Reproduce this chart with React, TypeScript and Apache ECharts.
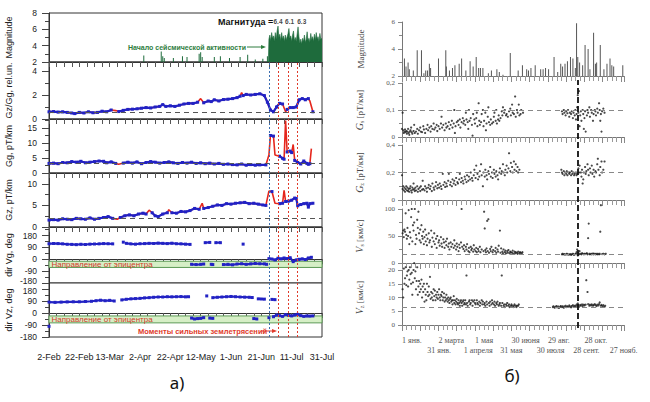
import React, { useEffect, useRef } from 'react';
import * as echarts from 'echarts';

// ---------- tick labels ----------
const leftXLabels = ['2-Feb', '22-Feb', '13-Mar', '2-Apr', '22-Apr', '12-May', '1-Jun', '21-Jun', '11-Jul', '31-Jul'];
const rightXLabels = ['1 янв.', '31 янв.', '2 марта', '1 апреля', '1 мая', '31 мая', '30 июня', '30 июля', '29 авг.', '28 сент.', '28 окт.', '27 нояб.'];

// ---------- panel a) ----------
const onsetDay = 145;
const quakeDays = [151, 158, 164];
const quakeMags = [6.4, 6.1, 6.3];

const magSpikesA: [number, number][] = [
  [62.5, 2.8], [74, 3.3], [75, 2.7], [76, 2.5], [82, 2.5], [88, 2.7], [91, 2.6], [99, 3.0], [100, 3.2], [101, 2.6],
  [109, 2.6], [113, 2.7], [119, 2.5], [126, 2.6], [131, 2.9], [136, 2.3], [141, 2.4], [144, 2.7],
];
const magSwarmA: [number, number][] = [
  [144.6, 2], [145, 4.8], [145.6, 5.3], [146.2, 4.6], [146.8, 5.6], [147.4, 4.9], [148, 5.2], [148.6, 4.5], [149.2, 5.6], [149.8, 4.8],
  [150.4, 5.8], [151, 6.4], [151.6, 5.0], [152.2, 5.4], [152.8, 4.6], [153.4, 5.6], [154, 4.8], [154.6, 5.2], [155.2, 4.5], [155.8, 5.3],
  [156.4, 4.7], [157, 5.1], [157.6, 5.5], [158.2, 6.1], [158.8, 4.9], [159.4, 5.2], [160, 4.5], [160.6, 5.3], [161.2, 5.8], [161.8, 4.6],
  [162.4, 5.0], [163, 4.5], [163.6, 5.4], [164.2, 6.3], [164.8, 5.1], [165.4, 4.3], [166, 4.8], [166.6, 4.2], [167.2, 4.9], [167.8, 4.5],
  [168.4, 5.3], [169, 4.4], [169.6, 4.8], [170.2, 5.7], [170.8, 4.6], [171.4, 4.9], [172, 4.4], [172.6, 5.5], [173.2, 4.7], [173.8, 5.1],
  [174.4, 4.5], [175, 5.4], [175.6, 4.7], [176.2, 5.6], [176.8, 4.8], [177.4, 5.1], [178, 4.5], [178.6, 5.5], [179.2, 4.8], [180, 4.9],
];

const gzGgA: [number, number][] = [
  [0, 0.6], [3, 0.62], [6, 0.58], [9, 0.6], [12, 0.55], [15, 0.5], [17, 0.45], [20, 0.55], [23, 0.5], [26, 0.6], [29, 0.52], [32, 0.55],
  [35, 0.65], [38, 0.6], [41, 0.75], [44, 0.7], [46, 0.62], [49, 0.72], [52, 0.8], [55, 0.82], [58, 0.85], [61, 0.9], [64, 0.95], [67, 0.92],
  [70, 1.0], [73, 1.05], [75, 1.2], [77, 1.05], [80, 1.1], [83, 1.05], [86, 1.15], [89, 1.25], [92, 1.3], [95, 1.3], [98, 1.4], [100, 1.7],
  [102, 1.35], [105, 1.5], [107, 1.45], [109, 1.6], [112, 1.5], [115, 1.62], [118, 1.65], [121, 1.7], [124, 1.78], [126, 1.9], [127, 2.2],
  [128, 1.95], [130, 2.05], [133, 2.0], [136, 2.05], [139, 2.1], [142, 1.95], [144, 1.4], [146, 0.75], [148, 0.6], [150, 1.0], [152, 1.3],
  [154, 1.25], [156, 0.6], [157, 0.8], [159, 0.95], [161, 0.95], [163, 1.0], [165, 1.6], [167, 1.7], [169, 1.6], [171, 1.7], [172, 1.5], [174, 0.6],
];
const gzGgRed = [44, 100, 127, 156, 172];

const ggA: [number, number][] = [
  [0, 3.2], [3, 3.3], [6, 3.1], [9, 3.5], [12, 3.4], [15, 3.8], [18, 3.6], [21, 3.9], [24, 3.4], [27, 3.6], [30, 3.8], [33, 4.0], [36, 3.9],
  [38, 3.4], [41, 3.7], [44, 3.2], [46, 2.9], [49, 3.3], [52, 3.6], [55, 3.3], [58, 3.7], [61, 3.1], [64, 3.5], [67, 3.8], [70, 3.6], [73, 3.3],
  [76, 3.5], [79, 3.7], [82, 3.4], [85, 3.2], [88, 3.5], [91, 3.3], [94, 3.6], [97, 3.2], [100, 3.4], [103, 3.1], [106, 3.3], [109, 3.0],
  [112, 3.2], [115, 2.9], [118, 3.0], [121, 2.8], [124, 2.7], [127, 3.0], [130, 2.6], [133, 2.8], [136, 2.6], [139, 2.7], [143, 2.7],
  [145, 6.0], [146, 12.5], [148, 12.3], [149, 6.0], [152, 5.6], [154, 4.9], [155, 4.6], [156, 17.5], [157, 7.0], [159, 7.3], [160, 6.8],
  [161, 9.5], [162, 4.2], [164, 3.5], [166, 3.0], [168, 4.0], [170, 3.2], [171, 2.9], [172, 3.1], [173, 8.1],
];
const ggRed = [46, 145, 149, 156, 161, 173];

const gzA: [number, number][] = [
  [0, 1.6], [3, 1.7], [6, 1.6], [9, 1.9], [12, 1.8], [15, 1.7], [18, 2.0], [21, 1.9], [24, 1.8], [27, 2.1], [30, 1.8], [33, 2.0], [36, 2.2],
  [39, 2.4], [42, 2.0], [45, 1.8], [47, 2.2], [50, 2.6], [53, 2.8], [56, 2.6], [59, 3.0], [62, 3.2], [64, 3.0], [66, 3.9], [68, 3.3], [70, 2.6],
  [72, 2.4], [75, 3.0], [78, 3.3], [79, 4.0], [81, 3.3], [84, 3.2], [87, 3.6], [90, 3.5], [93, 3.8], [96, 4.3], [99, 4.1], [101, 5.5], [102, 4.3],
  [105, 4.5], [108, 4.8], [111, 5.1], [114, 5.0], [117, 5.4], [120, 5.3], [123, 5.5], [126, 5.6], [129, 5.7], [132, 5.4], [135, 5.5], [138, 5.3],
  [141, 5.1], [143, 5.0], [145, 8.3], [147, 8.2], [149, 5.5], [152, 5.4], [154, 5.5], [155, 8.5], [156, 5.9], [158, 6.0], [160, 6.2], [162, 6.7],
  [163, 6.6], [164, 4.9], [166, 5.2], [168, 5.4], [170, 5.5], [171, 4.6], [172, 5.4], [174, 5.5],
];
const gzRed = [45, 66, 79, 101, 145, 149, 155];

const dirVgUpper: [number, number | null][] = [
  [0, 118], [3, 120], [6, 119], [9, 117], [12, 114], [15, 113], [18, 111], [21, 114], [24, 112], [27, 115], [30, 116], [33, 117], [36, 119],
  [39, 118], [42, 117], [45, null], [49, 130], [50, null], [51, 121], [54, 117], [57, 115], [60, 118], [63, 119], [66, 121], [69, 120],
  [72, 123], [75, 121], [78, 119], [81, 122], [84, 118], [87, 117], [90, 115], [93, 113], [98, null], [103, 126], [106, 128], [108, null],
  [110, 126], [113, 126], [120, null], [128, 115],
];
const dirVgLower: [number, number | null][] = [
  [94, -38], [97, -40], [100, -38], [102, -36], [104, null], [107, -38], [108, -40], [111, null], [115, -40], [118, -38], [121, -42],
  [124, -36], [127, -34], [130, -38], [133, -35], [136, -32], [139, -34], [142, -35], [143.5, -38],
];
const dirVgAfter: [number, number][] = [
  [145, 5], [147, 2], [149, -5], [151, 8], [153, 3], [155, 10], [157, 5], [159, 12], [161, -18], [163, -5], [165, 0], [167, 3], [169, -2],
  [171, 10], [173, 15],
];

const dirVzUpper: [number, number | null][] = [
  [0, 82], [4, 80], [8, 82], [12, 83], [16, 84], [20, 84], [24, 86], [28, 88], [31, 92], [34, 96], [37, 92], [40, 95], [43, 90], [45, null],
  [48, 98], [51, 103], [54, 106], [57, 108], [60, 110], [63, 113], [66, 115], [69, 118], [72, 120], [75, 120], [78, 122], [81, 121], [84, 122],
  [87, 123], [90, 121], [92, 122], [95, null], [104, 128], [105, null], [108, 115], [111, 118], [114, 120], [117, 122], [120, 124], [123, 122],
  [126, 120], [129, 119], [132, 118], [134, 116], [135, null], [138, 106], [140, 105], [142, 104], [144, null], [147, 102], [149, 100],
];
const dirVzLower: [number, number | null][] = [
  [0, -100], [1, null], [94, -38], [96, -45], [98, -42], [100, -40], [102, -35], [103, null], [106, -38], [108, -40], [110, null],
  [135, -42], [137, -45], [138, null], [145, -35], [146, null], [148, -28], [150, -15], [152, -20], [154, -25], [156, -12], [158, -18],
  [160, -22], [162, -15], [164, -10], [166, -20], [168, -25], [170, -22], [172, -23], [174, -22],
];

// ---------- panel б) ----------
const markedDayB = 289;
const magB: [number, number][] = [
  [4, 3.3], [6.6, 2.7], [10, 3.0], [12, 2.5], [18.6, 2.4], [25, 3.9], [32, 3.9], [36, 2.2], [39, 2.4], [42, 2.4], [45, 2.9], [47, 2.6],
  [60, 3.3], [72, 3.9], [73, 2.7], [78, 2.4], [83, 2.6], [87, 2.8], [94, 2.9], [98, 3.3], [105, 2.4], [112, 3.1], [117, 2.7], [122, 3.4],
  [126, 2.6], [129, 2.6], [133, 2.6], [142, 2.2], [147, 2.4], [156, 2.5], [160, 2.3], [166, 2.1], [178, 3.7], [191, 2.4], [198, 2.8],
  [205, 2.5], [208, 2.4], [212, 2.6], [219, 2.8], [228, 2.5], [232, 2.5], [236, 2.6], [241, 2.5], [250, 3.4], [256, 2.3], [261, 2.9],
  [264, 2.7], [268, 2.9], [272, 3.1], [277, 3.4], [281, 3.3], [285, 2.6], [287, 5.9], [289, 3.4], [292, 3.0], [297, 2.8], [301, 4.3],
  [306, 4.0], [309, 2.5], [315, 5.2], [318, 2.9], [320, 3.0], [326, 4.3], [332, 2.5], [337, 2.9], [342, 3.3], [345, 2.8], [348, 2.7], [363, 2.8],
];
const gsB: [number, number][] = [
  [0, 0.03], [1, 0.09], [2, 0.025], [3, 0.015], [4, 0.02], [5, 0.028], [6, 0.018], [7, 0.022], [8, 0.012], [9, 0.02], [10, 0.03], [11, 0.015],
  [12, 0.008], [13, 0.02], [14, 0.025], [15, 0.035], [16, 0.018], [17, 0.012], [19, 0.022], [20, 0.045], [21, 0.015], [23, 0.02], [25, 0.03],
  [26, 0.012], [28, 0.025], [30, 0.035], [31, 0.02], [33, 0.018], [35, 0.04], [36, 0.028], [38, 0.015], [40, 0.03], [42, 0.045], [43, 0.025],
  [45, 0.035], [47, 0.02], [48, 0.04], [50, 0.03], [52, 0.05], [53, 0.028], [55, 0.035], [57, 0.045], [58, 0.022], [60, 0.04], [62, 0.03],
  [64, 0.05], [65, 0.075], [66, 0.035], [68, 0.045], [70, 0.025], [72, 0.05], [73, 0.035], [75, 0.04], [77, 0.055], [78, 0.03], [80, 0.045],
  [82, 0.06], [83, 0.035], [85, 0.05], [86, 0.1], [87, 0.015], [88, 0.04], [90, 0.055], [92, 0.06], [93, 0.045], [95, 0.065], [96, 0.035],
  [98, 0.055], [100, 0.07], [101, 0.05], [102, 0.06], [104, 0.045], [105, 0.09], [106, 0.065], [108, 0.055], [109, 0.03], [110, 0.1],
  [111, 0.06], [113, 0.07], [115, 0.045], [116, 0.005], [117, 0.085], [119, 0.065], [120, 0.05], [122, 0.07], [123, 0.09], [124, 0.04],
  [126, 0.125], [127, 0.06], [128, 0.045], [130, 0.055], [131, 0.085], [133, 0.1], [134, 0.04], [135, 0.06], [137, 0.09], [138, 0.025],
  [139, 0.05], [141, 0.075], [142, 0.11], [143, 0.055], [145, 0.045], [146, 0.065], [148, 0.05], [150, 0.055], [151, 0.075], [152, 0.09],
  [154, 0.06], [155, 0.1], [156, 0.05], [158, 0.065], [159, 0.08], [160, 0.06], [162, 0.07], [164, 0.095], [165, 0.08], [166, 0.11],
  [168, 0.09], [169, 0.1], [171, 0.08], [172, 0.085], [174, 0.075], [176, 0.095], [178, 0.105], [179, 0.08], [181, 0.12], [182, 0.09],
  [184, 0.085], [186, 0.15], [187, 0.075], [189, 0.1], [190, 0.09], [192, 0.12], [193, 0.08], [195, 0.085], [196, 0.1], [199, 0.09],
  [263, 0.095], [264, 0.085], [266, 0.1], [267, 0.09], [269, 0.08], [270, 0.095], [272, 0.088], [273, 0.1], [275, 0.075], [276, 0.09],
  [278, 0.085], [279, 0.095], [281, 0.07], [282, 0.09], [284, 0.08], [285, 0.1], [286, 0.065], [287, 0.085], [288, 0.11], [289, 0.155],
  [290, 0.09], [291, 0.17], [292, 0.04], [293, 0.08], [294, 0.095], [295, 0.06], [297, 0.1], [298, 0.085], [299, 0.03], [300, 0.07],
  [301, 0.095], [302, 0.02], [304, 0.08], [305, 0.1], [306, 0.09], [308, 0.11], [309, 0.075], [311, 0.1], [312, 0.09], [314, 0.06],
  [315, 0.085], [317, 0.1], [318, 0.095], [319, 0.08], [321, 0.105], [322, 0.09], [324, 0.125], [325, 0.1], [326, 0.06], [327, 0.085],
  [328, 0.02], [329, 0.095], [331, 0.105], [333, 0.09],
];
const gzB: [number, number][] = [
  [0, 0.18], [1, 0.08], [2, 0.1], [3, 0.07], [4, 0.09], [5, 0.06], [6, 0.08], [7, 0.1], [8, 0.07], [9, 0.09], [10, 0.065], [11, 0.08],
  [12, 0.06], [13, 0.085], [14, 0.1], [15, 0.07], [16, 0.055], [17, 0.09], [18, 0.075], [19, 0.12], [20, 0.08], [21, 0.065], [22, 0.09],
  [23, 0.07], [25, 0.1], [26, 0.06], [27, 0.08], [29, 0.09], [30, 0.065], [31, 0.1], [33, 0.075], [34, 0.14], [35, 0.08], [37, 0.07],
  [38, 0.1], [40, 0.085], [41, 0.06], [43, 0.09], [44, 0.11], [46, 0.08], [47, 0.1], [49, 0.065], [50, 0.12], [52, 0.09], [53, 0.075],
  [55, 0.1], [56, 0.13], [58, 0.085], [59, 0.11], [61, 0.09], [62, 0.12], [64, 0.1], [65, 0.08], [67, 0.19], [68, 0.11], [70, 0.13],
  [71, 0.095], [73, 0.12], [74, 0.1], [76, 0.14], [77, 0.19], [79, 0.11], [80, 0.13], [82, 0.1], [83, 0.15], [85, 0.12], [86, 0.14],
  [88, 0.11], [89, 0.16], [91, 0.13], [92, 0.12], [94, 0.15], [95, 0.19], [97, 0.13], [98, 0.16], [100, 0.14], [101, 0.12], [103, 0.17],
  [104, 0.15], [106, 0.13], [107, 0.18], [109, 0.14], [110, 0.17], [112, 0.15], [113, 0.2], [115, 0.16], [116, 0.14], [118, 0.18],
  [119, 0.22], [121, 0.16], [122, 0.25], [124, 0.19], [125, 0.15], [127, 0.17], [128, 0.21], [130, 0.26], [131, 0.18], [133, 0.1],
  [134, 0.2], [136, 0.17], [137, 0.22], [139, 0.18], [140, 0.15], [142, 0.21], [143, 0.19], [145, 0.24], [146, 0.17], [148, 0.2],
  [149, 0.16], [151, 0.22], [152, 0.19], [154, 0.17], [155, 0.21], [157, 0.18], [158, 0.15], [160, 0.2], [161, 0.23], [163, 0.19],
  [164, 0.21], [166, 0.26], [167, 0.2], [169, 0.18], [170, 0.22], [172, 0.25], [173, 0.2], [175, 0.23], [176, 0.34], [178, 0.21],
  [179, 0.27], [181, 0.24], [182, 0.2], [184, 0.28], [185, 0.22], [187, 0.26], [188, 0.21], [190, 0.24], [191, 0.2], [193, 0.22],
  [262, 0.22], [263, 0.2], [264, 0.19], [266, 0.21], [267, 0.18], [268, 0.2], [270, 0.19], [271, 0.21], [272, 0.18], [274, 0.2],
  [275, 0.19], [276, 0.2], [278, 0.18], [279, 0.21], [280, 0.19], [282, 0.2], [283, 0.18], [284, 0.19], [286, 0.2], [287, 0.18],
  [288, 0.19], [290, 0.23], [291, 0.2], [292, 0.25], [294, 0.2], [295, 0.17], [296, 0.22], [297, 0.12], [298, 0.15], [299, 0.2],
  [301, 0.24], [302, 0.19], [303, 0.21], [305, 0.26], [306, 0.22], [307, 0.18], [309, 0.23], [310, 0.2], [312, 0.25], [313, 0.19],
  [315, 0.22], [316, 0.17], [318, 0.21], [319, 0.2], [321, 0.26], [322, 0.3], [323, 0.22], [325, 0.18], [326, 0.24], [328, 0.28],
  [329, 0.2], [331, 0.22], [333, 0.28],
];
const vsB: [number, number][] = [
  [1, 55], [2, 60], [3, 48], [4, 62], [5, 58], [6, 92], [7, 52], [8, 45], [9, 65], [10, 50], [11, 98], [12, 35], [13, 57], [14, 47],
  [15, 85], [16, 100], [17, 40], [18, 70], [19, 60], [20, 75], [21, 100], [22, 35], [23, 52], [24, 45], [25, 80], [26, 65], [27, 95],
  [28, 55], [29, 42], [30, 62], [31, 38], [32, 70], [33, 50], [34, 45], [35, 58], [36, 35], [37, 48], [38, 62], [39, 40], [40, 52],
  [41, 33], [42, 45], [44, 55], [45, 38], [46, 42], [48, 60], [49, 30], [50, 47], [52, 40], [53, 55], [54, 35], [56, 45], [57, 28],
  [58, 50], [60, 38], [61, 42], [62, 32], [64, 48], [65, 36], [66, 30], [68, 44], [69, 38], [70, 28], [72, 40], [73, 33], [74, 45],
  [76, 30], [77, 36], [78, 25], [80, 38], [81, 30], [83, 35], [85, 28], [86, 42], [87, 32], [89, 25], [90, 36], [91, 30], [93, 22],
  [94, 34], [95, 28], [97, 38], [98, 100], [99, 30], [101, 26], [102, 33], [103, 22], [105, 30], [106, 25], [107, 35], [109, 22],
  [110, 28], [111, 20], [113, 30], [114, 24], [115, 27], [117, 21], [118, 33], [119, 25], [121, 22], [122, 28], [123, 20], [125, 26],
  [126, 22], [128, 30], [129, 20], [131, 25], [134, 22], [135, 95], [136, 64], [137, 24], [138, 20], [139, 27], [140, 78], [141, 22],
  [142, 81], [143, 19], [145, 26], [146, 22], [147, 30], [149, 20], [150, 24], [153, 22], [154, 28], [155, 19], [157, 25], [158, 21],
  [159, 32], [161, 60], [162, 19], [163, 27], [165, 21], [166, 18], [167, 25], [169, 20], [170, 23], [171, 18], [173, 22], [174, 19],
  [175, 24], [177, 18], [178, 21], [179, 20], [181, 19], [182, 23], [183, 17], [185, 21], [186, 18], [187, 20], [189, 19], [190, 17],
  [191, 21], [193, 18], [194, 20], [195, 19], [197, 18], [198, 20],
  [263, 16], [264, 17], [265, 16], [267, 16.5], [268, 15.5], [270, 16], [271, 17], [272, 16], [274, 15.5], [275, 16], [277, 16.5],
  [278, 15], [279, 16], [281, 17], [282, 16], [283, 15], [285, 16.5], [286, 17], [287, 20], [288, 25], [289, 14], [290, 18], [291, 16],
  [292, 22], [293, 17], [295, 16], [296, 18], [297, 17], [299, 16], [300, 17], [301, 16.5], [303, 17], [304, 18], [305, 16], [306, 46],
  [307, 73], [308, 17], [309, 16], [311, 17], [312, 16], [314, 17.5], [315, 16], [316, 17], [318, 16], [319, 17], [321, 16], [322, 17],
  [324, 16], [325, 17], [326, 58], [327, 107], [329, 16.5], [331, 17], [333, 16], [335, 17],
];
const vzB: [number, number][] = [
  [1, 13], [2, 10], [3, 20.5], [4, 15], [5, 17], [6, 21], [7, 14.5], [8, 18], [9, 19.5], [10, 14], [11, 20], [12, 16.5], [13, 21],
  [14, 18.5], [15, 15], [16, 19], [17, 11], [18, 15.5], [19, 20], [20, 22.5], [21, 17], [22, 19.5], [23, 13], [24, 16], [25, 21],
  [26, 11], [27, 14], [28, 16], [29, 12], [30, 15], [31, 13], [32, 16.5], [33, 10], [34, 14], [35, 12], [36, 15], [37, 8.5], [38, 13],
  [39, 11], [40, 9], [41, 15], [42, 12], [43, 10.5], [44, 14], [45, 11], [46, 17.5], [47, 9.5], [48, 12], [49, 10], [50, 11.5], [51, 9],
  [52, 13], [53, 10.5], [54, 12.5], [55, 9], [56, 11], [57, 10], [58, 12], [59, 9.5], [60, 11], [61, 13], [62, 10], [63, 9], [64, 11],
  [65, 10.5], [66, 12], [67, 9], [68, 10], [69, 11.5], [70, 8.5], [71, 10], [72, 9], [73, 11], [74, 9.5], [75, 8.5], [76, 10], [77, 9],
  [78, 8], [79, 9.5], [80, 10], [81, 8.5], [82, 9], [83, 7.5], [84, 9], [85, 10.5], [86, 8], [87, 9], [88, 7.5], [89, 8.5], [90, 9.5],
  [91, 8], [92, 7.5], [93, 9], [94, 8], [95, 7], [96, 8.5], [97, 9], [98, 8], [99, 7], [100, 8.5], [101, 9], [102, 7.5], [103, 8],
  [104, 9], [105, 7.5], [106, 18], [107, 8], [108, 7], [110, 8.5], [111, 9], [112, 7.5], [113, 8], [115, 9], [116, 7], [117, 8.5],
  [119, 9], [120, 8], [121, 7.5], [123, 9], [124, 8], [125, 7.5], [127, 8.5], [128, 7], [129, 8], [131, 9], [132, 7.5], [133, 8.5],
  [135, 7.5], [136, 8], [137, 7], [139, 8.5], [140, 7.5], [143, 8], [144, 7], [145, 8.5], [147, 7.5], [148, 9], [149, 8], [151, 7.5],
  [152, 8.5], [153, 7], [155, 8], [156, 7.5], [157, 8.5], [159, 7], [160, 7.5], [161, 8], [163, 7], [164, 18], [165, 8], [167, 7],
  [168, 7.5], [169, 6.5], [171, 7.5], [172, 7], [173, 8], [175, 7], [176, 7.5], [177, 6.5], [179, 7], [180, 7.5], [181, 7], [183, 6.5],
  [184, 7], [185, 7.5], [187, 7], [188, 6.5], [189, 7], [191, 7], [192, 7.5],
  [248, 6.5], [249, 6.8], [251, 6.3], [252, 6.6], [254, 6.9], [255, 6.4], [257, 6.7], [258, 6.2], [260, 6.6], [261, 6.9], [263, 6.5],
  [264, 6.8], [266, 6.3], [267, 6.7], [269, 7], [270, 6.5], [272, 6.8], [273, 6.6], [275, 7.1], [276, 6.7], [278, 6.4], [279, 6.9],
  [281, 7.2], [282, 6.6], [284, 7], [285, 6.8], [287, 7.4], [288, 6.9], [289, 7.8], [290, 7.2], [291, 6.6], [293, 7.3], [294, 7],
  [296, 7.5], [297, 6.9], [299, 7.4], [300, 7.1], [302, 7.4], [303, 16.3], [305, 12], [306, 7.6], [308, 7], [309, 7.4], [311, 7.1],
  [312, 7.5], [314, 7], [315, 7.3], [317, 7.6], [318, 7.2], [320, 6.9], [321, 7.4], [323, 7.1], [324, 7.6], [325, 8.2], [327, 7],
  [328, 7.3], [330, 6.8], [331, 7.2], [333, 6.6], [334, 7],
];
const refLevelsB = { gs: 0.1, gz: 0.2, vs: 16, vz: 6.6 };
const refLevelsA = { gzGg: 0.55, gg: 3.3, gz: 2 };

// ---------- styling helpers ----------
const SANS = 'Liberation Sans, Arial, sans-serif';
const SERIF = 'Liberation Serif, Times New Roman, serif';
const BLUE = '#2222c4';
const RED = '#e5261c';
const GREEN = '#1e6b3c';

const maskRed = (data: [number, number][], red: number[]) =>
  data.map(([d, v]) => [d, red.includes(d) ? null : v]);

const leftGrids = [
  { top: 13, height: 49 },
  { top: 62, height: 57 },
  { top: 119, height: 54 },
  { top: 173, height: 54 },
  { top: 227, height: 56 },
  { top: 283, height: 54 },
];
const leftY = [
  { name: 'Magnitude', min: 2, max: 8, interval: 2 },
  { name: 'Gz/Gg, rel.un.', min: 0, max: 4.75, interval: 2 },
  { name: 'Gg, pT/km', min: 0, max: 18, interval: 5 },
  { name: 'Gz, pT/km', min: 0, max: 12.5, interval: 5 },
  { name: 'dir Vg, deg', min: -180, max: 245, interval: 90 },
  { name: 'dir Vz, deg', min: -180, max: 225, interval: 90 },
];
const rightGrids = [
  { top: 22, height: 54 },
  { top: 83, height: 54 },
  { top: 145, height: 55 },
  { top: 209, height: 54 },
  { top: 270, height: 55 },
];
const rightY = [
  { name: 'Magnitude', min: 2, max: 6, interval: 2, split: 2 },
  { name: '{i|G}{s|s} [pT/км]', min: 0, max: 0.2, interval: 0.1, split: 2 },
  { name: '{i|G}{s|z} [pT/км]', min: 0, max: 0.4, interval: 0.2, split: 2 },
  { name: '{i|V}{s|s} [км/с]', min: 0, max: 100, interval: 50, split: 2 },
  { name: '{i|V}{s|z} [км/с]', min: 0, max: 20, interval: 5, split: 1 },
];

function rightDateLabel(v: number, row: number) {
  if (v % 30 !== 0) return '';
  const idx = v / 30;
  const lab = rightXLabels[idx];
  if (!lab || idx % 2 !== row) return '';
  return lab;
}

function buildOption() {
  const grid: any[] = [];
  const xAxis: any[] = [];
  const yAxis: any[] = [];
  const series: any[] = [];

  // left grids 0..5
  leftGrids.forEach((g, i) => {
    grid.push({ left: 49, width: 273, top: g.top, height: g.height, show: true, borderColor: '#333', borderWidth: 1, backgroundColor: '#fff' });
    xAxis.push({
      gridIndex: i, type: 'value', min: 0, max: 180, interval: 20,
      axisLine: { show: true, lineStyle: { color: '#333' } },
      axisTick: { show: true, inside: false, length: 5, lineStyle: { color: '#555' } },
      minorTick: { show: true, splitNumber: 4, length: 5, lineStyle: { color: '#555' } },
      splitLine: { show: false },
      axisLabel: {
        show: i === 5, margin: 15, fontSize: 9, fontFamily: SANS, color: '#222',
        formatter: (v: number) => (v % 20 === 0 ? leftXLabels[v / 20] ?? '' : ''),
      },
    });
    const y = leftY[i];
    yAxis.push({
      gridIndex: i, type: 'value', min: y.min, max: y.max, interval: y.interval,
      name: y.name, nameLocation: 'middle', nameRotate: 90, nameGap: 36,
      nameTextStyle: { fontSize: 9, fontFamily: SANS, color: '#222' },
      axisLine: { show: true, lineStyle: { color: '#333' } },
      axisTick: { show: true, length: 7, lineStyle: { color: '#444' } },
      minorTick: { show: true, splitNumber: 2, length: 4, lineStyle: { color: '#444' } },
      splitLine: { show: false },
      axisLabel: {
        margin: 12, fontSize: 8.5, fontFamily: SANS, color: '#222', lineHeight: 9,
        formatter: (v: number) => {
          if (Math.abs(v % y.interval) >= 1e-9) return '';
          if (i === 4 && v === -180) return '{lo|-180}';
          if (i === 5 && v === 180) return '{hi|180}';
          return String(v);
        },
        rich: {
          lo: { fontSize: 8.5, fontFamily: SANS, color: '#222', lineHeight: 9, padding: [0, 0, 4, 0] },
          hi: { fontSize: 8.5, fontFamily: SANS, color: '#222', lineHeight: 9, padding: [4, 0, 0, 0] },
        },
      },
    });
  });
  // left overlay grid 6
  grid.push({ left: 49, width: 273, top: 62, height: 275, show: false });
  xAxis.push({ gridIndex: 6, type: 'value', min: 0, max: 180, show: false });
  yAxis.push({ gridIndex: 6, type: 'value', min: 0, max: 1, show: false });

  // right grids 7..11
  rightGrids.forEach((g, k) => {
    const i = 7 + k;
    grid.push({ left: 402, width: 222, top: g.top, height: g.height, show: false });
    xAxis.push({
      gridIndex: i, type: 'value', min: 0, max: 365, interval: 30,
      axisLine: { show: true, lineStyle: { color: '#777' } },
      axisTick: { show: true, inside: false, length: 6, lineStyle: { color: '#888' } },
      minorTick: { show: true, splitNumber: 4, length: 5, lineStyle: { color: '#999' } },
      splitLine: { show: false },
      axisLabel: {
        show: k === 4, margin: 11, align: 'left', fontSize: 8, fontFamily: SERIF, color: '#555',
        showMinLabel: true, showMaxLabel: false,
        formatter: (v: number) => rightDateLabel(v, 0),
      },
    });
    const y = rightY[k];
    yAxis.push({
      gridIndex: i, type: 'value', min: y.min, max: y.max, interval: y.interval,
      name: y.name, nameLocation: 'middle', nameRotate: 90, nameGap: 37,
      nameTextStyle: {
        fontSize: 9, fontFamily: SERIF, color: '#444',
        rich: {
          i: { fontSize: 10, fontStyle: 'italic', fontFamily: SERIF, color: '#444' },
          s: { fontSize: 6, fontFamily: SERIF, color: '#444', padding: [5, 0, 0, 0] },
        },
      },
      axisLine: { show: true, lineStyle: { color: '#777' } },
      axisTick: { show: true, length: 4, lineStyle: { color: '#888' } },
      minorTick: { show: y.split > 1, splitNumber: y.split, length: 3, lineStyle: { color: '#888' } },
      splitLine: { show: false },
      axisLabel: {
        margin: 7, fontSize: 7, fontFamily: SERIF, color: '#555', lineHeight: 7,
        formatter: (v: number) => (v === 0 ? '0' : (Number.isInteger(v) ? String(v) : v.toFixed(1).replace('.', ','))),
      },
    });
  });
  // right overlay grid 12
  grid.push({ left: 402, width: 222, top: 80, height: 248, show: false });
  xAxis.push({ gridIndex: 12, type: 'value', min: 0, max: 365, show: false });
  yAxis.push({ gridIndex: 12, type: 'value', min: 0, max: 1, show: false });
  // second label row for the bottom right axis (index 13)
  xAxis.push({
    gridIndex: 11, type: 'value', min: 0, max: 365, interval: 30, position: 'bottom',
    axisLine: { show: false }, axisTick: { show: false }, splitLine: { show: false },
    axisLabel: {
      show: true, margin: 21, align: 'left', padding: [0, 0, 0, 7], fontSize: 8, fontFamily: SERIF, color: '#555',
      showMinLabel: true, showMaxLabel: false,
      formatter: (v: number) => rightDateLabel(v, 1),
    },
  });

  const hDash = (v: number, color = '#666') => ({
    silent: true, symbol: 'none', label: { show: false },
    lineStyle: { type: [5, 4], color, width: 1 },
    data: [{ yAxis: v }],
  });
  const band = {
    silent: true,
    itemStyle: { color: '#d6efc6', borderColor: '#5c9a55', borderWidth: 1 },
    label: { show: true, position: 'insideLeft', color: '#d23a2a', fontSize: 8, fontFamily: SANS, distance: 3 },
  };

  // ---- left series ----
  series.push({
    type: 'bar', xAxisIndex: 0, yAxisIndex: 0, data: magSpikesA, barWidth: 1,
    itemStyle: { color: GREEN }, silent: true,
  });
  series.push({
    type: 'line', xAxisIndex: 0, yAxisIndex: 0, data: magSwarmA, symbol: 'none',
    lineStyle: { color: GREEN, width: 0.6 }, areaStyle: { color: GREEN, opacity: 1, origin: 'start' }, silent: true,
  });
  series.push({
    type: 'scatter', xAxisIndex: 0, yAxisIndex: 0, symbolSize: 1, itemStyle: { color: 'rgba(0,0,0,0)' },
    data: quakeDays.map((d, i) => ({
      value: [d, 6.95], name: quakeMags[i].toFixed(1),
      label: { offset: [i === 0 ? 0 : i === 1 ? 1 : 4, 0] },
    })),
    label: { show: true, position: 'inside', formatter: '{b}', fontSize: 6.5, fontWeight: 'bold', fontFamily: SANS, color: '#111' },
    silent: true,
  });

  const pair = (idx: number, data: [number, number][], red: number[], ref: number) => {
    series.push({
      type: 'line', xAxisIndex: idx, yAxisIndex: idx, data, symbol: 'none',
      lineStyle: { color: RED, width: 1.6 }, silent: true, z: 2,
      markLine: hDash(ref, '#555'),
    });
    series.push({
      type: 'line', xAxisIndex: idx, yAxisIndex: idx, data: maskRed(data, red), connectNulls: false,
      symbol: 'rect', symbolSize: 3, showSymbol: true, itemStyle: { color: BLUE },
      lineStyle: { color: BLUE, width: 2.2 }, silent: true, z: 3,
    });
  };
  pair(1, gzGgA, gzGgRed, refLevelsA.gzGg);
  pair(2, ggA, ggRed, refLevelsA.gg);
  pair(3, gzA, gzRed, refLevelsA.gz);

  const dirLine = (idx: number, data: any[], extra: any = {}) => ({
    type: 'line', xAxisIndex: idx, yAxisIndex: idx, data, connectNulls: false,
    symbol: 'rect', symbolSize: 3, showSymbol: true, itemStyle: { color: BLUE },
    lineStyle: { color: BLUE, width: 2.2 }, silent: true, z: 3, ...extra,
  });
  series.push(dirLine(4, dirVgUpper, {
    markArea: { ...band, data: [[{ yAxis: -15, name: 'Направление от эпицентра' }, { yAxis: -62 }]] },
  }));
  series.push(dirLine(4, dirVgLower));
  series.push(dirLine(4, dirVgAfter));
  series.push(dirLine(5, dirVzUpper, {
    markArea: { ...band, data: [[{ yAxis: -22, name: 'Направление от эпицентра' }, { yAxis: -74 }]] },
  }));
  series.push(dirLine(5, dirVzLower));

  // left overlay vertical lines
  series.push({
    type: 'line', xAxisIndex: 6, yAxisIndex: 6, data: [], silent: true,
    markLine: {
      silent: true, symbol: 'none', label: { show: false },
      data: [
        { xAxis: onsetDay, lineStyle: { color: '#3d6fb0', type: [2, 2], width: 1 } },
        ...quakeDays.map((d) => ({ xAxis: d, lineStyle: { color: '#e03a2a', type: [2, 2], width: 1 } })),
      ],
    },
  });

  // ---- right series ----
  series.push({
    type: 'bar', xAxisIndex: 7, yAxisIndex: 7, data: magB, barWidth: 1,
    itemStyle: { color: '#555' }, silent: true,
  });
  const dots = (idx: number, data: [number, number][], ref: number) => ({
    type: 'scatter', xAxisIndex: idx, yAxisIndex: idx, data, symbolSize: 2.2, clip: false,
    itemStyle: { color: '#1a1a1a' }, silent: true, markLine: hDash(ref, '#888'),
  });
  series.push(dots(8, gsB, refLevelsB.gs));
  series.push(dots(9, gzB, refLevelsB.gz));
  series.push(dots(10, vsB, refLevelsB.vs));
  series.push(dots(11, vzB, refLevelsB.vz));
  series.push({
    type: 'line', xAxisIndex: 12, yAxisIndex: 12, data: [], silent: true,
    markLine: {
      silent: true, symbol: 'none', label: { show: false },
      data: [{ xAxis: markedDayB, lineStyle: { color: '#111', type: [6, 3], width: 1.8 } }],
    },
  });

  const graphic: any[] = [
    { type: 'text', x: 218, y: 22, style: { text: 'Магнитуда =', fontSize: 9, fontWeight: 'bold', fontFamily: SANS, fill: '#111', textVerticalAlign: 'middle' } },
    { type: 'text', x: 128, y: 47, style: { text: 'Начало сейсмической активности', fontSize: 7, fontWeight: 'bold', fontFamily: SANS, fill: '#2e7d3e', textVerticalAlign: 'middle' } },
    { type: 'line', shape: { x1: 247, y1: 47, x2: 262, y2: 47 }, style: { stroke: '#2e7d3e', lineWidth: 1 } },
    { type: 'polygon', shape: { points: [[266, 47], [261, 45], [261, 49]] }, style: { fill: '#2e7d3e' } },
    { type: 'text', x: 138, y: 331, style: { text: 'Моменты сильных землетрясений', fontSize: 7.5, fontWeight: 'bold', fontFamily: SANS, fill: '#e03a2a', textVerticalAlign: 'middle' } },
    { type: 'line', shape: { x1: 262, y1: 331, x2: 273, y2: 331 }, style: { stroke: '#e03a2a', lineWidth: 1 } },
    { type: 'polygon', shape: { points: [[277, 331], [272, 329], [272, 333]] }, style: { fill: '#e03a2a' } },
    { type: 'text', x: 177, y: 382, style: { text: 'а)', fontSize: 17, fontFamily: 'Noto Sans, sans-serif', fill: '#111', textAlign: 'center', textVerticalAlign: 'middle' } },
    { type: 'text', x: 512, y: 375, style: { text: 'б)', fontSize: 17, fontFamily: 'Noto Sans, sans-serif', fill: '#111', textAlign: 'center', textVerticalAlign: 'middle' } },
  ];

  return { animation: false, backgroundColor: '#fff', grid, xAxis, yAxis, series, graphic };
}

export default function App() {
  const ref = useRef<HTMLDivElement>(null);
  useEffect(() => {
    if (!ref.current) return;
    const chart = echarts.init(ref.current, undefined, { renderer: 'svg' });
    chart.setOption(buildOption() as any);
    return () => chart.dispose();
  }, []);
  return <div ref={ref} style={{ position: 'fixed', left: 0, top: 0, width: 650, height: 402, background: '#fff' }} />;
}
